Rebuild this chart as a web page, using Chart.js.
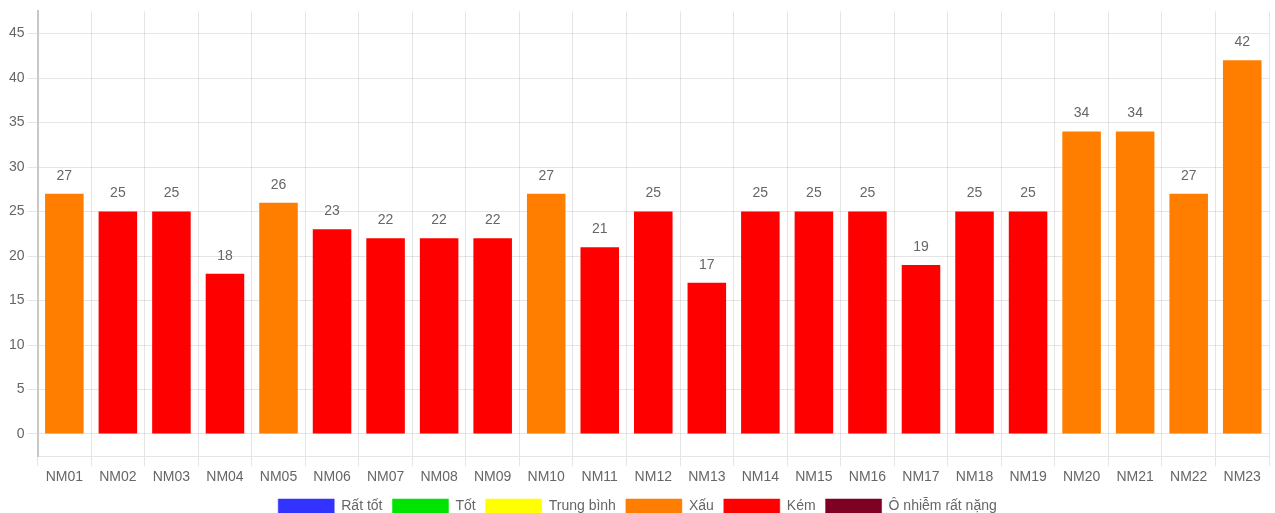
<!DOCTYPE html>
<html lang="vi">
<head>
<meta charset="UTF-8">
<title>Chỉ số</title>
<script src="https://cdn.jsdelivr.net/npm/chart.js@4.4.0/dist/chart.umd.min.js"></script>
<style>
  html, body { margin: 0; padding: 0; overflow: hidden; background: #fff; }
  .chart-div { position: relative; width: 1275px; height: 523px; }
</style>
</head>
<body>
<script>
  let stations = ["NM01","NM02","NM03","NM04","NM05","NM06","NM07","NM08","NM09","NM10","NM11","NM12",
                  "NM13","NM14","NM15","NM16","NM17","NM18","NM19","NM20","NM21","NM22","NM23"];
  let values = [27,25,25,18,26,23,22,22,22,27,21,25,17,25,25,25,19,25,25,34,34,27,42];
  // level index of each bar: 3 = Xấu, 4 = Kém
  let levels = [3,4,4,4,3,4,4,4,4,3,4,4,4,4,4,4,4,4,4,3,3,3,3];
  let levelNames = ["Rất tốt","Tốt","Trung bình","Xấu","Kém","Ô nhiễm rất nặng"];
  let levelColors = ["#3333ff","#00e400","#ffff00","#ff7e00","#ff0000","#7e0023"];
  let yTicks = [0,5,10,15,20,25,30,35,40,45];
</script>
<div class="chart-div">
  <canvas id="aqiChart"></canvas>
</div>
<script>
  const fontFam = "Arial, 'Liberation Sans', sans-serif";

  // numbers above each bar
  const valueLabels = {
    id: 'valueLabels',
    afterDatasetsDraw(chart) {
      const ctx = chart.ctx;
      const meta = chart.getDatasetMeta(0);
      ctx.save();
      ctx.font = "14px " + fontFam;
      ctx.fillStyle = "#666";
      ctx.textAlign = "center";
      ctx.textBaseline = "middle";
      meta.data.forEach((bar, i) => {
        ctx.fillText(values[i], bar.x, bar.y - 18);
      });
      ctx.restore();
    }
  };

  let ctx = document.getElementById('aqiChart').getContext('2d');
  let myChart = new Chart(ctx, {
    type: 'bar',
    data: {
      labels: stations,
      datasets: [{
        data: values,
        backgroundColor: levels.map(l => levelColors[l]),
        borderWidth: 0
      }]
    },
    options: {
      responsive: true,
      maintainAspectRatio: false,
      animation: false,
      layout: { padding: { top: 9, right: 6, left: 6, bottom: 0 } },
      scales: {
        x: {
          grid: { color: 'rgba(0,0,0,0.1)', tickLength: 10, offset: true },
          border: { color: 'rgba(0,0,0,0.1)' },
          ticks: { color: '#666', font: { size: 14, family: fontFam }, maxRotation: 0 }
        },
        y: {
          min: -2.5,
          max: 47.5,
          afterBuildTicks: function(scale) {
            scale.ticks = yTicks.map(v => ({ value: v }));
          },
          grid: { color: 'rgba(0,0,0,0.1)', tickLength: 10 },
          border: { color: '#c8c8c8', width: 2 },
          ticks: { color: '#666', font: { size: 14, family: fontFam } }
        }
      },
      plugins: {
        tooltip: { enabled: false },
        legend: {
          position: 'bottom',
          labels: {
            boxWidth: 56,
            boxHeight: 14,
            color: '#666',
            font: { size: 14, family: fontFam },
            padding: 10,
            generateLabels: function() {
              return levelNames.map((name, i) => ({
                text: name,
                fillStyle: levelColors[i],
                strokeStyle: levelColors[i] + '80',
                fontColor: '#666',
                lineWidth: 1,
                hidden: false,
                datasetIndex: 0
              }));
            }
          }
        }
      }
    },
    plugins: [valueLabels]
  });
</script>
</body>
</html>
